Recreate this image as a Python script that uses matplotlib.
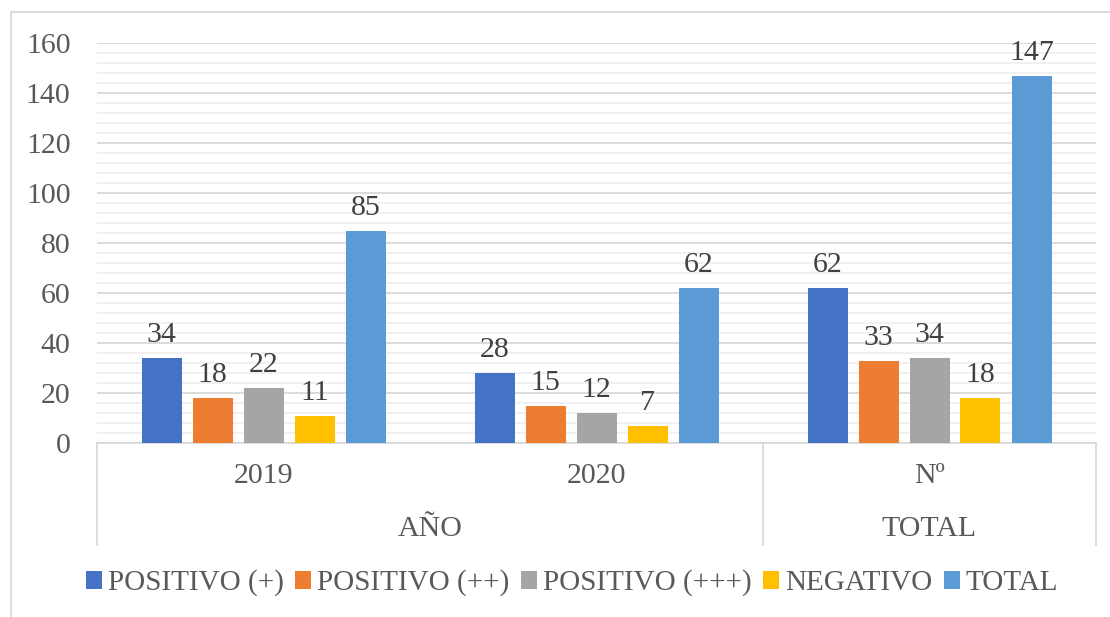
import matplotlib
matplotlib.use("Agg")
import matplotlib.pyplot as plt
import numpy as np
from matplotlib.patches import Rectangle, Patch
from matplotlib.lines import Line2D
from matplotlib.ticker import MultipleLocator

categories = ["2019", "2020", "Nº"]
groups = ["AÑO", "TOTAL"]
series_names = ["POSITIVO (+)", "POSITIVO (++)", "POSITIVO (+++)", "NEGATIVO", "TOTAL"]
pos1 = [34, 28, 62]
pos2 = [18, 15, 33]
pos3 = [22, 12, 34]
neg = [11, 7, 18]
total = [85, 62, 147]
series_values = [pos1, pos2, pos3, neg, total]
colors = ["#4472C4", "#ED7D31", "#A5A5A5", "#FFC000", "#5B9BD5"]

plt.rcParams['font.family'] = ['Liberation Serif', 'DejaVu Serif']
txt = "#595959"
fs = 21.5

fig = plt.figure(figsize=(11.1, 6.17), dpi=100)
ax = fig.add_axes([97/1110, 1-443/617, 999/1110, 400/617])

x = np.arange(len(categories))
pitch = 51/333
bw = 40/333
for i, (vals, c) in enumerate(zip(series_values, colors)):
    xs = x + (i - 2) * pitch
    ax.bar(xs, vals, width=bw, color=c, zorder=3, label=series_names[i])
    for xi, v in zip(xs, vals):
        ax.annotate(str(v), (xi, v), xytext=(0, 7), textcoords="offset points",
                    ha="center", va="bottom", fontsize=fs, color="#404040")

ax.set_xlim(-0.5, 2.5)
ax.set_ylim(0, 160)
ax.yaxis.set_major_locator(MultipleLocator(20))
ax.yaxis.set_minor_locator(MultipleLocator(4))
ax.grid(which="major", axis="y", color="#D9D9D9", lw=1.3, zorder=0)
ax.grid(which="minor", axis="y", color="#F0F0F0", lw=1.3, zorder=0)
for s in ["top", "right", "left"]:
    ax.spines[s].set_visible(False)
ax.spines["bottom"].set_color("#D9D9D9")
ax.spines["bottom"].set_linewidth(1.3)
ax.set_xticks([])
ax.tick_params(axis="y", which="both", length=0, labelsize=fs, labelcolor=txt, pad=19)

trans = ax.get_xaxis_transform()
for xv in [-0.5, 1.5, 2.5]:
    ax.add_line(Line2D([xv, xv], [0, -102/400], transform=trans, color="#D9D9D9",
                       lw=1.3, clip_on=False))
for xi, c in zip(x, categories):
    ax.text(xi, -33/400, c, transform=trans, ha="center", va="center", fontsize=fs, color=txt)
group_x = [0.5, 2]
for gx, g in zip(group_x, groups):
    ax.text(gx, -86/400, g, transform=trans, ha="center", va="center", fontsize=fs, color=txt)

handles = [Patch(facecolor=c, label=n) for c, n in zip(colors, series_names)]
fig.legend(handles=handles, loc="center", bbox_to_anchor=(572/1110, 1-583/617),
           ncol=5, frameon=False, fontsize=21, handlelength=0.55, handleheight=0.6,
           handletextpad=0.2, columnspacing=0.4, labelcolor=txt, borderaxespad=0)

fig.patches.append(Rectangle((11/1110, -0.01), 1.2, 1-12/617+0.01, transform=fig.transFigure,
                             fill=False, edgecolor="#D9D9D9", lw=1.3))

fig.savefig("out.png", dpi=100)
